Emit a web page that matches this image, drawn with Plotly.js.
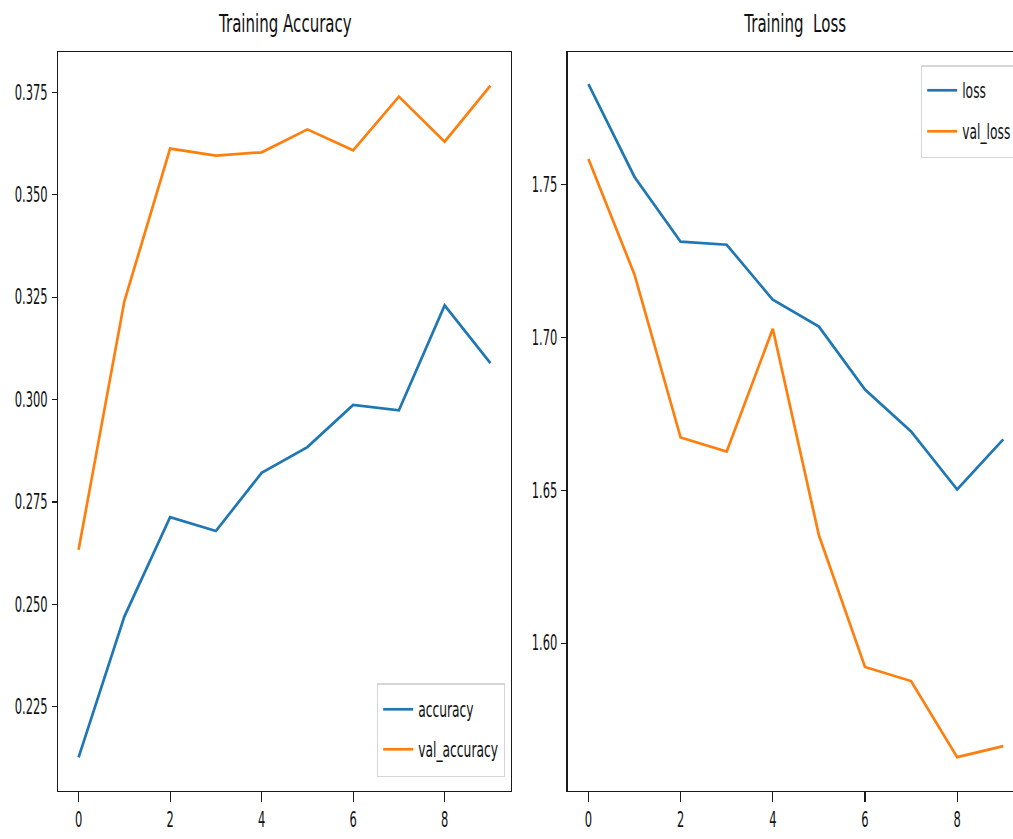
<!DOCTYPE html>
<html><head><meta charset="utf-8">
<script src="https://cdn.plot.ly/plotly-3.0.1.min.js"></script>
<style>html,body{margin:0;padding:0;overflow:hidden;background:#fff}#chart{width:1025px;height:839px}</style>
</head><body><div id="chart"></div>
<script>
const epochs = [0, 1, 2, 3, 4, 5, 6, 7, 8, 9];
const accuracy = [0.2126, 0.2470, 0.2713, 0.2679, 0.2821, 0.2884, 0.2987, 0.2974, 0.3230, 0.3089];
const valAccuracy = [0.2633, 0.3240, 0.3613, 0.3596, 0.3604, 0.3660, 0.3609, 0.3740, 0.3630, 0.3767];
const loss = [1.7830, 1.7526, 1.7314, 1.7304, 1.7124, 1.7036, 1.6830, 1.6693, 1.6503, 1.6667];
const valLoss = [1.7585, 1.7206, 1.6673, 1.6627, 1.7029, 1.6353, 1.5922, 1.5876, 1.5627, 1.5663];
const accTicks = [0.225, 0.250, 0.275, 0.300, 0.325, 0.350, 0.375];
const lossTicks = [1.60, 1.65, 1.70, 1.75];
const xTicks = [0, 2, 4, 6, 8];

const W = 1025, H = 839;
const FONT = "'DejaVu Sans', sans-serif";
const BLUE = '#1f77b4', ORANGE = '#ff7f0e';
const SQUEEZE = 0.56;
const LEGEND_SQUEEZE = 0.6;
const LEGEND_TEXT = 'text.legendtext, text.legend2text';

const traces = [
  {x: epochs, y: accuracy, name: 'accuracy', mode: 'lines', line: {color: BLUE, width: 2.7}, xaxis: 'x', yaxis: 'y', legend: 'legend'},
  {x: epochs, y: valAccuracy, name: 'val_accuracy', mode: 'lines', line: {color: ORANGE, width: 2.7}, xaxis: 'x', yaxis: 'y', legend: 'legend'},
  {x: epochs, y: loss, name: 'loss', mode: 'lines', line: {color: BLUE, width: 2.7}, xaxis: 'x2', yaxis: 'y2', legend: 'legend2'},
  {x: epochs, y: valLoss, name: 'val_loss', mode: 'lines', line: {color: ORANGE, width: 2.7}, xaxis: 'x2', yaxis: 'y2', legend: 'legend2'}
];

const axisBase = {
  showline: true, mirror: true, linecolor: '#1a1a1a', linewidth: 1.3,
  showgrid: false, zeroline: false, automargin: false,
  ticks: 'outside', tickwidth: 1.2, tickcolor: '#1a1a1a',
  tickfont: {family: FONT, size: 20.5, color: '#111'}
};
const xBase = Object.assign({}, axisBase, {ticklen: 10, range: [-0.45, 9.45], tickvals: xTicks, ticktext: xTicks.map(String)});
const yBase = Object.assign({}, axisBase, {ticklen: 5});

const plotH = H - 52 - 48;
const legendFont = {family: FONT, size: 20.5, color: '#111'};
const layout = {
  width: W, height: H,
  margin: {l: 0, r: 0, t: 52, b: 48},
  paper_bgcolor: '#fff', plot_bgcolor: '#fff',
  font: {family: FONT, color: '#111'},
  xaxis: Object.assign({}, xBase, {domain: [58 / W, 511 / W], anchor: 'y'}),
  yaxis: Object.assign({}, yBase, {range: [0.2044, 0.3849], tickvals: accTicks, ticktext: accTicks.map(v => v.toFixed(3)), anchor: 'x'}),
  xaxis2: Object.assign({}, xBase, {domain: [567.7 / W, 1024 / W], anchor: 'y2'}),
  yaxis2: Object.assign({}, yBase, {range: [1.5516, 1.7935], tickvals: lossTicks, ticktext: lossTicks.map(v => v.toFixed(2)), anchor: 'x2'}),
  showlegend: true,
  // legends are first laid out well inside the figure (so no margin is pushed), then moved into place
  legend: {x: 0.3, y: 0.5, xanchor: 'left', yanchor: 'top', bgcolor: 'rgba(255,255,255,0.8)', bordercolor: '#d6d6d6', borderwidth: 1.2, font: legendFont},
  legend2: {x: 0.6, y: 0.5, xanchor: 'left', yanchor: 'top', bgcolor: 'rgba(255,255,255,0.8)', bordercolor: '#d6d6d6', borderwidth: 1.2, font: legendFont},
  annotations: [
    {text: 'Training Accuracy', x: 284.5 / W, y: 1 + 29 / plotH, xref: 'paper', yref: 'paper', xanchor: 'center', yanchor: 'middle', showarrow: false, font: {family: FONT, size: 25.5, color: '#111'}},
    {text: 'Training  Loss', x: 795 / W, y: 1 + 29 / plotH, xref: 'paper', yref: 'paper', xanchor: 'center', yanchor: 'middle', showarrow: false, font: {family: FONT, size: 25.5, color: '#111'}}
  ]
};

// Narrow each text horizontally around its anchor point (the reference's lettering is condensed).
function squeezeText(t, s) {
  if (t.getAttribute('data-sq')) return;
  const anchor = t.getAttribute('text-anchor') || 'start';
  const bb = t.getBBox();
  const ax = anchor === 'end' ? bb.x + bb.width : (anchor === 'middle' ? bb.x + bb.width / 2 : bb.x);
  const prev = t.getAttribute('transform') || '';
  t.setAttribute('transform', (prev + ' translate(' + ax + ',0) scale(' + s + ',1) translate(' + (-ax) + ',0)').trim());
  t.setAttribute('data-sq', '1');
}

function findLegend(gd, label) {
  const texts = Array.from(gd.querySelectorAll(LEGEND_TEXT));
  const t = texts.find(el => el.textContent.trim() === label);
  if (!t) return null;
  let g = t.parentNode;
  while (g && g !== gd) {
    if (g.tagName.toLowerCase() === 'g') {
      const cls = (g.getAttribute('class') || '').trim();
      if (/^legend\d*$/.test(cls)) return g;
    }
    g = g.parentNode;
  }
  return null;
}

function placeLegend(g, left, firstCy, spacing, padV, padR) {
  if (!g) return false;
  if (g.getAttribute('data-done')) return true;
  const texts = Array.from(g.querySelectorAll(LEGEND_TEXT));
  if (!texts.length) return false;
  texts.forEach(t => squeezeText(t, LEGEND_SQUEEZE));
  const items = Array.from(g.querySelectorAll('g.traces'));
  if (items.length) {
    const m0 = items[0].transform.baseVal.consolidate();
    const x0 = m0 ? m0.matrix.e : 0, y0 = m0 ? m0.matrix.f : 0;
    items.forEach((it, i) => it.setAttribute('transform', 'translate(' + x0 + ',' + (y0 + i * spacing) + ')'));
  }
  const mg = g.transform.baseVal.consolidate();
  const e = mg ? mg.matrix.e : 0, f = mg ? mg.matrix.f : 0;
  const rects = texts.map(t => t.getBoundingClientRect());
  const cy1 = (rects[0].top + rects[0].bottom) / 2 - f;
  const cyN = (rects[rects.length - 1].top + rects[rects.length - 1].bottom) / 2 - f;
  const right = Math.max.apply(null, rects.map(r => r.right)) - e;
  g.setAttribute('transform', 'translate(' + left + ',' + (firstCy - cy1) + ')');
  const bg = g.querySelector('rect.bg');
  if (bg) {
    bg.setAttribute('y', cy1 - padV);
    bg.setAttribute('height', (cyN - cy1) + 2 * padV);
    bg.setAttribute('width', right + padR);
  }
  g.querySelectorAll('[clip-path]').forEach(el => el.removeAttribute('clip-path'));
  g.setAttribute('data-done', '1');
  return true;
}

let tries = 0;
function finish(gd) {
  gd.querySelectorAll('g.xtick text, g.ytick text, g.x2tick text, g.y2tick text').forEach(t => squeezeText(t, SQUEEZE));
  gd.querySelectorAll('g.annotation text').forEach(t => squeezeText(t, 0.59));
  const okA = placeLegend(findLegend(gd, 'accuracy'), 377, 710, 40, 26, 6);
  const okB = placeLegend(findLegend(gd, 'loss'), 921, 91, 41, 25, 6);
  if ((!okA || !okB) && tries++ < 60) setTimeout(() => finish(gd), 30);
}

Plotly.newPlot('chart', traces, layout, {displayModeBar: false, staticPlot: true}).then(gd => finish(gd));
</script>
</body></html>
